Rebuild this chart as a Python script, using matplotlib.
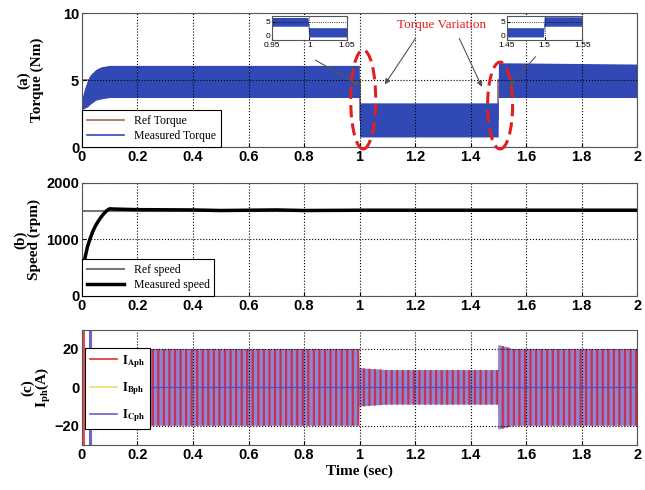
import numpy as np
import matplotlib
matplotlib.use("Agg")
import matplotlib.pyplot as plt
from matplotlib.patches import Ellipse

# ---- data ----
# torque ripple band (upper / lower envelope) and reference
torque_t = [0, 0.01, 0.02, 0.03, 0.05, 0.07, 0.1, 0.999, 1.0, 1.499, 1.5, 2.0]
torque_hi = [3.6, 4.4, 5.0, 5.4, 5.8, 6.0, 6.1, 6.1, 3.3, 3.3, 6.3, 6.2]
torque_lo = [2.8, 2.9, 3.0, 3.2, 3.5, 3.6, 3.7, 3.7, 0.75, 0.75, 3.7, 3.7]
ref_torque_t = [0, 1, 1, 1.5, 1.5, 2]
ref_torque = [5, 5, 2, 2, 5, 5]

# speed
ref_speed_t = [0, 2]
ref_speed = [1500, 1500]
speed_t = [0, 0.005, 0.01, 0.02, 0.03, 0.04, 0.05, 0.06, 0.07, 0.08, 0.09, 0.1,
           0.12, 0.2, 0.4, 0.5, 0.6, 0.7, 0.8, 1.0, 1.5, 2.0]
speed = [0, 350, 650, 870, 1020, 1150, 1250, 1330, 1400, 1460, 1510, 1540,
         1535, 1525, 1520, 1510, 1515, 1520, 1510, 1515, 1515, 1515]

# phase current envelope
cur_t = [0, 0.04, 0.2, 0.999, 1.0, 1.1, 1.499, 1.5, 1.53, 1.55, 2.0]
cur_amp = [20, 20, 20, 20, 10, 9, 9, 22, 21, 20, 20]
spike_t = [0.003, 0.006, 0.03, 0.034]
spike_col = ['#e89a3c', '#e05050', '#6a66c8', '#6a66c8']

plt.rcParams['mathtext.fontset'] = 'stix'
plt.rcParams['hatch.linewidth'] = 1.6
tickfont = dict(family='Liberation Sans', weight='bold', size=10.5)
labfont = dict(family='Liberation Serif', weight='bold', size=11)
legfont = dict(family='Liberation Serif', size=8.5)

fig = plt.figure(figsize=(6.45, 4.9), dpi=100)
ax1 = fig.add_axes([0.127, 0.700, 0.861, 0.273])
ax2 = fig.add_axes([0.127, 0.396, 0.861, 0.231])
ax3 = fig.add_axes([0.127, 0.092, 0.861, 0.235])

def style(ax):
    ax.set_xlim(0, 2)
    ax.set_xticks(np.arange(0, 2.01, 0.2))
    ax.set_xticklabels(['0', '0.2', '0.4', '0.6', '0.8', '1', '1.2', '1.4', '1.6', '1.8', '2'])
    ax.grid(True, color='k', linestyle=':', linewidth=0.8)
    ax.tick_params(direction='in', length=3, pad=2)
    for lab in ax.get_xticklabels() + ax.get_yticklabels():
        lab.set_fontfamily('Liberation Sans')
        lab.set_fontweight('bold')
        lab.set_fontsize(10.5)
    for s in ax.spines.values():
        s.set_color('#555555')

# (a) torque
ax1.plot(ref_torque_t, ref_torque, color='#9b6b5a', lw=1.2, label='Ref Torque', zorder=0.5)
ax1.fill_between(torque_t, torque_lo, torque_hi, color='#3049b4', lw=0, zorder=1)
ax1.plot([], [], color='#3049b4', lw=1.2, label='Measured Torque')
ax1.set_ylim(0, 10)
ax1.set_yticks([0, 5, 10])
style(ax1)
ax1.set_ylabel('(a)\nTorque (Nm)', **labfont, linespacing=1.0)
ax1.yaxis.set_label_coords(-0.068, 0.5)
leg = ax1.legend(loc='lower left', prop=legfont, fancybox=False, edgecolor='k',
                 framealpha=1, borderaxespad=0, handlelength=3.2, labelspacing=0.3)
leg.get_frame().set_linewidth(0.8)

ax1.add_patch(Ellipse((1.013, 3.55), 0.09, 7.4, fill=False, ec='#e02020', ls=(0, (4, 2)),
                      lw=2.2, clip_on=False, zorder=5))
ax1.add_patch(Ellipse((1.506, 3.1), 0.09, 6.5, fill=False, ec='#e02020', ls=(0, (4, 2)),
                      lw=2.2, clip_on=False, zorder=5))
ax1.text(1.297, 9.1, 'Torque Variation', color='#e02020', ha='center', va='center',
         family='Liberation Serif', fontsize=9.5)
arr = dict(arrowstyle='-|>', color='#555555', lw=0.8, mutation_scale=8)
ax1.annotate('', xy=(1.085, 4.5), xytext=(1.207, 8.3), arrowprops=arr)
ax1.annotate('', xy=(1.445, 4.3), xytext=(1.355, 8.3), arrowprops=arr)
ax1.annotate('', xy=(1.009, 4.5), xytext=(0.832, 6.6), arrowprops=arr, annotation_clip=False)
ax1.annotate('', xy=(1.532, 4.4), xytext=(1.64, 6.9), arrowprops=arr, annotation_clip=False)

# insets
for left, xl, ticks, labs in [(0.421, (0.95, 1.05), [0.95, 1, 1.05], ['0.95', '1', '1.05']),
                              (0.786, (1.45, 1.55), [1.45, 1.5, 1.55], ['1.45', '1.5', '1.55'])]:
    ins = fig.add_axes([left, 0.918, 0.117, 0.049])
    ins.fill_between(torque_t, torque_lo, torque_hi, color='#3049b4', lw=0)
    ins.set_xlim(*xl)
    ins.set_ylim(0, 6.6)
    ins.set_xticks(ticks)
    ins.set_xticklabels(labs)
    ins.set_yticks([0, 5])
    ins.grid(True, color='k', linestyle=':', linewidth=0.6)
    ins.tick_params(direction='in', length=2, pad=1, labelsize=6)
    for lab in ins.get_xticklabels() + ins.get_yticklabels():
        lab.set_fontfamily('Liberation Sans')
    ins.get_yticklabels()[0].set_va('bottom')
    for s in ins.spines.values():
        s.set_color('#555555')

# (b) speed
ax2.plot(ref_speed_t, ref_speed, color='#777777', lw=1.5, label='Ref speed')
ax2.plot(speed_t, speed, color='k', lw=2.5, label='Measured speed')
ax2.set_ylim(0, 2000)
ax2.set_yticks([0, 1000, 2000])
style(ax2)
ax2.set_ylabel('(b)\nSpeed (rpm)', **labfont, linespacing=1.0)
ax2.yaxis.set_label_coords(-0.074, 0.5)
leg = ax2.legend(loc='lower left', prop=legfont, fancybox=False, edgecolor='k',
                 framealpha=1, borderaxespad=0, handlelength=3.2, labelspacing=0.3)
leg.get_frame().set_linewidth(0.8)

# (c) phase currents
ax3.fill_between(cur_t, [-a for a in cur_amp], cur_amp, facecolor='#8c86d6',
                 edgecolor='#c8304c', hatch='|||', lw=0)
ax3.axhline(0, color='#4a50c8', lw=0.8)
ax3.vlines(spike_t, -32, 32, colors=spike_col, lw=1.5)
ax3.plot([], [], color='#e03030', lw=1.2, label=r'$\mathbf{I_{Aph}}$')
ax3.plot([], [], color='#e8e070', lw=1.2, label=r'$\mathbf{I_{Bph}}$')
ax3.plot([], [], color='#6a5fc0', lw=1.2, label=r'$\mathbf{I_{Cph}}$')
ax3.set_ylim(-30, 30)
ax3.set_yticks([-20, 0, 20])
style(ax3)
ax3.set_ylabel('(c)\n' + r'$\mathbf{I_{ph}}$(A)', **labfont, linespacing=1.0)
ax3.yaxis.set_label_coords(-0.052, 0.5)
ax3.set_xlabel('Time (sec)', **labfont, labelpad=2)
leg = ax3.legend(loc='center left', bbox_to_anchor=(0.005, 0.49),
                 prop=dict(family='Liberation Serif', size=9),
                 fancybox=False, edgecolor='k', framealpha=1, borderaxespad=0,
                 handlelength=2.2, handletextpad=0.4, labelspacing=0.85)
leg.get_frame().set_linewidth(0.8)

fig.savefig('out.png', dpi=100)
